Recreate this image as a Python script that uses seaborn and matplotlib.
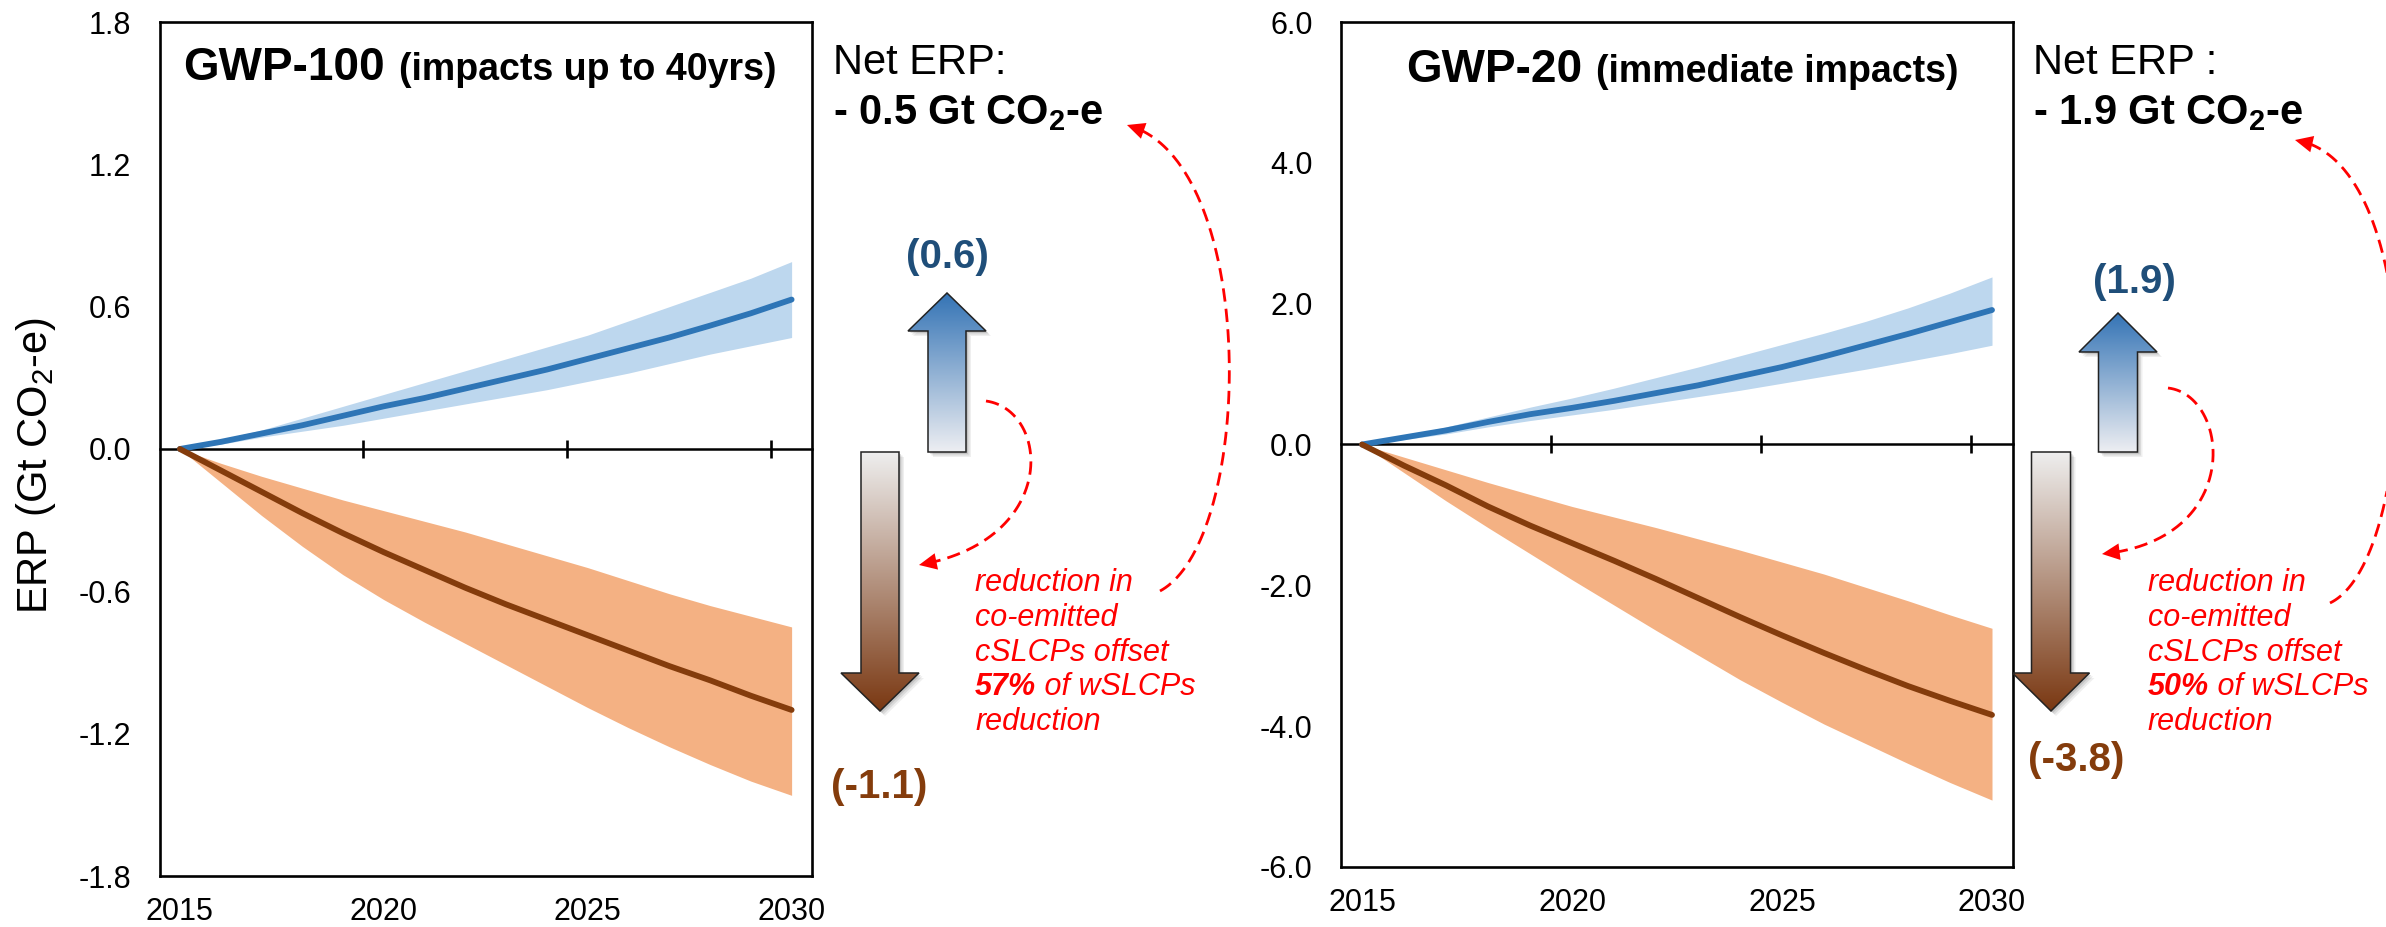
import numpy as np
import pandas as pd
import matplotlib
matplotlib.use("Agg")
import matplotlib.pyplot as plt
import seaborn as sns
from matplotlib.patches import Polygon
from matplotlib.colors import LinearSegmentedColormap

# ---------------------------------------------------------------- data
years = list(range(2015, 2031))

# GWP-100: warming from reduced cooling SLCPs (blue) and cooling from reduced warming SLCPs (brown)
gwp100_warm_mean = [0.0, 0.03, 0.065, 0.10, 0.14, 0.18, 0.215, 0.255, 0.295, 0.335, 0.38, 0.425, 0.47, 0.52, 0.572, 0.63]
gwp100_warm_low = [0.0, 0.02, 0.05, 0.075, 0.10, 0.13, 0.16, 0.19, 0.22, 0.25, 0.285, 0.32, 0.36, 0.40, 0.435, 0.47]
gwp100_warm_high = [0.0, 0.04, 0.08, 0.13, 0.18, 0.23, 0.28, 0.33, 0.38, 0.43, 0.48, 0.54, 0.60, 0.66, 0.72, 0.79]
gwp100_cool_mean = [0.0, -0.09, -0.18, -0.27, -0.355, -0.435, -0.51, -0.585, -0.655, -0.72, -0.785, -0.85, -0.915, -0.975, -1.04, -1.10]
gwp100_cool_low = [0.0, -0.14, -0.28, -0.41, -0.53, -0.635, -0.73, -0.82, -0.91, -1.00, -1.09, -1.175, -1.255, -1.33, -1.40, -1.46]
gwp100_cool_high = [0.0, -0.06, -0.115, -0.165, -0.215, -0.26, -0.305, -0.35, -0.40, -0.45, -0.50, -0.555, -0.61, -0.66, -0.705, -0.75]

# GWP-20
gwp20_warm_mean = [0.0, 0.10, 0.20, 0.32, 0.43, 0.52, 0.62, 0.73, 0.84, 0.97, 1.10, 1.25, 1.41, 1.57, 1.74, 1.91]
gwp20_warm_low = [0.0, 0.07, 0.15, 0.25, 0.34, 0.42, 0.50, 0.59, 0.68, 0.77, 0.87, 0.97, 1.07, 1.18, 1.29, 1.41]
gwp20_warm_high = [0.0, 0.12, 0.25, 0.39, 0.53, 0.66, 0.80, 0.95, 1.10, 1.26, 1.42, 1.58, 1.75, 1.94, 2.15, 2.38]
gwp20_cool_mean = [0.0, -0.30, -0.58, -0.88, -1.15, -1.40, -1.65, -1.91, -2.18, -2.45, -2.71, -2.96, -3.20, -3.43, -3.64, -3.84]
gwp20_cool_low = [0.0, -0.40, -0.80, -1.18, -1.55, -1.92, -2.28, -2.64, -2.99, -3.34, -3.66, -3.97, -4.25, -4.53, -4.80, -5.05]
gwp20_cool_high = [0.0, -0.18, -0.36, -0.54, -0.71, -0.88, -1.03, -1.18, -1.34, -1.50, -1.67, -1.84, -2.03, -2.22, -2.42, -2.61]

panel_titles = ["GWP-100", "GWP-20"]
panel_subtitles = ["(impacts up to 40yrs)", "(immediate impacts)"]
net_headings = ["Net ERP:", "Net ERP :"]
y_ticks_100 = [-1.8, -1.2, -0.6, 0.0, 0.6, 1.2, 1.8]
y_ticks_20 = [-6.0, -4.0, -2.0, 0.0, 2.0, 4.0, 6.0]
x_tick_years = [2015, 2020, 2025, 2030]
period_boundaries = [2019.5, 2024.5, 2029.5]

# ---------------------------------------------------------------- style
BAND_BLUE = "#BDD7EE"
BAND_ORANGE = "#F4B183"
LINE_BLUE = "#2E75B6"
LINE_BROWN = "#843C0C"
TEXT_BLUE = "#1F4E79"
TEXT_BROWN = "#843C0C"
RED = "#FF0000"

sns.set_theme(style="white")
plt.rcParams["font.family"] = ["Liberation Sans", "DejaVu Sans"]
plt.rcParams["mathtext.fontset"] = "custom"
plt.rcParams["mathtext.rm"] = "Liberation Sans"
plt.rcParams["mathtext.bf"] = "Liberation Sans:bold"
plt.rcParams["mathtext.it"] = "Liberation Sans:italic"

W, H = 2386, 927
fig = plt.figure(figsize=(W / 100, H / 100), dpi=100)


def frac_box(x0, y0, x1, y1):
    return [x0 / W, 1 - y1 / H, (x1 - x0) / W, (y1 - y0) / H]


panels = [
    dict(box=frac_box(159.5, 22, 812, 876), lim=1.8, ticks=y_ticks_100,
         warm=(gwp100_warm_mean, gwp100_warm_low, gwp100_warm_high),
         cool=(gwp100_cool_mean, gwp100_cool_low, gwp100_cool_high)),
    dict(box=frac_box(1341, 22, 2013, 867), lim=6.0, ticks=y_ticks_20,
         warm=(gwp20_warm_mean, gwp20_warm_low, gwp20_warm_high),
         cool=(gwp20_cool_mean, gwp20_cool_low, gwp20_cool_high)),
]

for p in panels:
    ax = fig.add_axes(p["box"])
    w_mean, w_low, w_high = p["warm"]
    c_mean, c_low, c_high = p["cool"]
    df = pd.DataFrame({"year": years, "warming": w_mean, "cooling": c_mean})
    ax.fill_between(years, w_low, w_high, color=BAND_BLUE, lw=0, zorder=1)
    ax.fill_between(years, c_low, c_high, color=BAND_ORANGE, lw=0, zorder=1)
    sns.lineplot(data=df, x="year", y="warming", ax=ax, color=LINE_BLUE, lw=4.2,
                 solid_capstyle="round", zorder=4)
    sns.lineplot(data=df, x="year", y="cooling", ax=ax, color=LINE_BROWN, lw=4.2,
                 solid_capstyle="round", zorder=4)
    ax.set_xlim(2014.5, 2030.5)
    ax.set_ylim(-p["lim"], p["lim"])
    ax.set_xticks(x_tick_years)
    ax.set_xticklabels([str(y) for y in x_tick_years])
    ax.set_yticks(p["ticks"])
    ax.set_yticklabels([f"{t:.1f}" for t in p["ticks"]])
    ax.tick_params(axis="both", length=0, labelsize=22, colors="black")
    ax.tick_params(axis="x", pad=15)
    ax.tick_params(axis="y", pad=20.5)
    ax.set_xlabel("")
    ax.set_ylabel("")
    for s in ax.spines.values():
        s.set_color("black")
        s.set_linewidth(1.9)
    zero = ax.secondary_xaxis(0.5)
    zero.set_xticks(period_boundaries)
    zero.tick_params(direction="inout", length=13, width=1.9, color="black",
                     labeltop=False, labelbottom=False)
    for s in zero.spines.values():
        s.set_color("black")
        s.set_linewidth(1.8)

# ---------------------------------------------------------------- annotation layer (pixel coordinates)
ov = fig.add_axes([0, 0, 1, 1], zorder=10)
ov.set_xlim(0, W)
ov.set_ylim(H, 0)
ov.set_autoscale_on(False)
ov.axis("off")
renderer = fig.canvas.get_renderer()


def text_run(x, y, pieces, gap=0):
    for s, kw in pieces:
        t = ov.text(x, y, s, va="baseline", ha="left", **kw)
        bb = t.get_window_extent(renderer=renderer)
        x = bb.x1 + gap


def gradient_arrow(cx, y_base, y_tip, shaft_w, head_w, head_len, c_top, c_bottom):
    d = np.sign(y_tip - y_base)
    y_neck = y_tip - d * head_len
    pts = [(cx - shaft_w / 2, y_base), (cx - shaft_w / 2, y_neck), (cx - head_w / 2, y_neck),
           (cx, y_tip), (cx + head_w / 2, y_neck), (cx + shaft_w / 2, y_neck),
           (cx + shaft_w / 2, y_base)]
    for off, a in ((5, 0.12), (3.5, 0.18), (2, 0.25)):
        ov.add_patch(Polygon([(x + off, y + off) for x, y in pts], closed=True,
                             facecolor="#808080", edgecolor="none", alpha=a, zorder=1))
    outline = Polygon(pts, closed=True, facecolor="none", edgecolor="#222222", lw=1.1, zorder=3)
    ov.add_patch(outline)
    top, bottom = min(y_base, y_tip), max(y_base, y_tip)
    grad = np.linspace(0, 1, 256).reshape(-1, 1)
    cmap = LinearSegmentedColormap.from_list("arrow_grad", [c_top, c_bottom])
    im = ov.imshow(grad, cmap=cmap, extent=[cx - head_w / 2, cx + head_w / 2, bottom, top],
                   origin="upper", aspect="auto", zorder=2, interpolation="bilinear")
    im.set_clip_path(outline)


def bezier(p0, p1, p2, p3, n=300):
    t = np.linspace(0, 1, n)[:, None]
    p0, p1, p2, p3 = (np.asarray(v, float) for v in (p0, p1, p2, p3))
    return (1 - t) ** 3 * p0 + 3 * (1 - t) ** 2 * t * p1 + 3 * (1 - t) * t ** 2 * p2 + t ** 3 * p3


def dashed_curve(ctrl):
    c = bezier(*ctrl)
    ov.plot(c[:-8, 0], c[:-8, 1], color=RED, lw=2.0, ls=(0, (4.8, 2.6)), zorder=5)
    ov.annotate("", xy=tuple(c[-1]), xytext=tuple(c[-10]),
                arrowprops=dict(arrowstyle="-|>,head_length=0.85,head_width=0.4",
                                color=RED, lw=0, mutation_scale=15, shrinkA=0, shrinkB=0),
                zorder=6)


# y axis label
ov.text(36, 466, "ERP (Gt CO$_2$-e)", rotation=90, ha="center", va="center",
        fontsize=30, color="black")

layout = [
    dict(title=(183, 80), head=(833, 74), net=(833, 124),
         up=(947, 293, 38, 78, 38), down=(880, 711, 38, 78, 38),
         up_lbl=(947, 257), down_lbl=(879, 787),
         small=[(986, 401), (1050, 410), (1060, 540), (919, 565)],
         big=[(1160, 591), (1255, 540), (1260, 160), (1127, 125)],
         note=(975, 591)),
    dict(title=(1406, 82), head=(2033, 74), net=(2033, 124),
         up=(2118, 313, 39, 78, 39), down=(2051, 711, 39, 77, 38),
         up_lbl=(2134, 282), down_lbl=(2076, 760),
         small=[(2168, 388), (2230, 395), (2245, 540), (2102, 554)],
         big=[(2330, 603), (2420, 560), (2430, 160), (2295, 140)],
         note=(2148, 591)),
]

for i, (p, L) in enumerate(zip(panels, layout)):
    w_end = p["warm"][0][-1]
    c_end = p["cool"][0][-1]
    net = w_end + c_end
    share = round(100 * w_end / abs(c_end))

    # panel title
    tx, ty = L["title"]
    text_run(tx, ty, [(panel_titles[i], dict(fontsize=33, fontweight="bold", color="black")),
                      (panel_subtitles[i], dict(fontsize=27, fontweight="bold", color="black"))],
             gap=14)

    # net ERP
    ov.text(L["head"][0], L["head"][1], net_headings[i], fontsize=30,
            va="baseline", ha="left", color="black")
    sign = "-" if net < 0 else "+"
    ov.text(L["net"][0], L["net"][1], f"{sign} {abs(net):.1f} Gt CO$_\\mathbf{{2}}$-e",
            fontsize=30, fontweight="bold", va="baseline", ha="left", color="black")

    # gradient arrows
    ux, utip, ushaft, uhead, ulen = L["up"]
    gradient_arrow(ux, 452, utip, ushaft, uhead, ulen, "#3373B5", "#EDEEF2")
    dx, dtip, dshaft, dhead, dlen = L["down"]
    gradient_arrow(dx, 452, dtip, dshaft, dhead, dlen, "#EEEEEE", "#7A3812")

    ov.text(*L["up_lbl"], f"({w_end:.1f})", fontsize=29, fontweight="bold",
            color=TEXT_BLUE, ha="center", va="center")
    ov.text(*L["down_lbl"], f"({c_end:.1f})", fontsize=29, fontweight="bold",
            color=TEXT_BROWN, ha="center", va="center")

    # dashed connectors
    dashed_curve(L["small"])
    dashed_curve(L["big"])

    # explanatory note
    nx, ny = L["note"]
    note_kw = dict(fontsize=22, style="italic", color=RED)
    lines = ["reduction in", "co-emitted", "cSLCPs offset", None, "reduction"]
    for k, line in enumerate(lines):
        y = ny + k * 34.8
        if line is None:
            text_run(nx, y, [(f"{share}%", dict(note_kw, fontweight="bold")),
                             (" of wSLCPs", note_kw)], gap=0)
        else:
            ov.text(nx, y, line, va="baseline", ha="left", **note_kw)

fig.savefig("out.png", dpi=100)
